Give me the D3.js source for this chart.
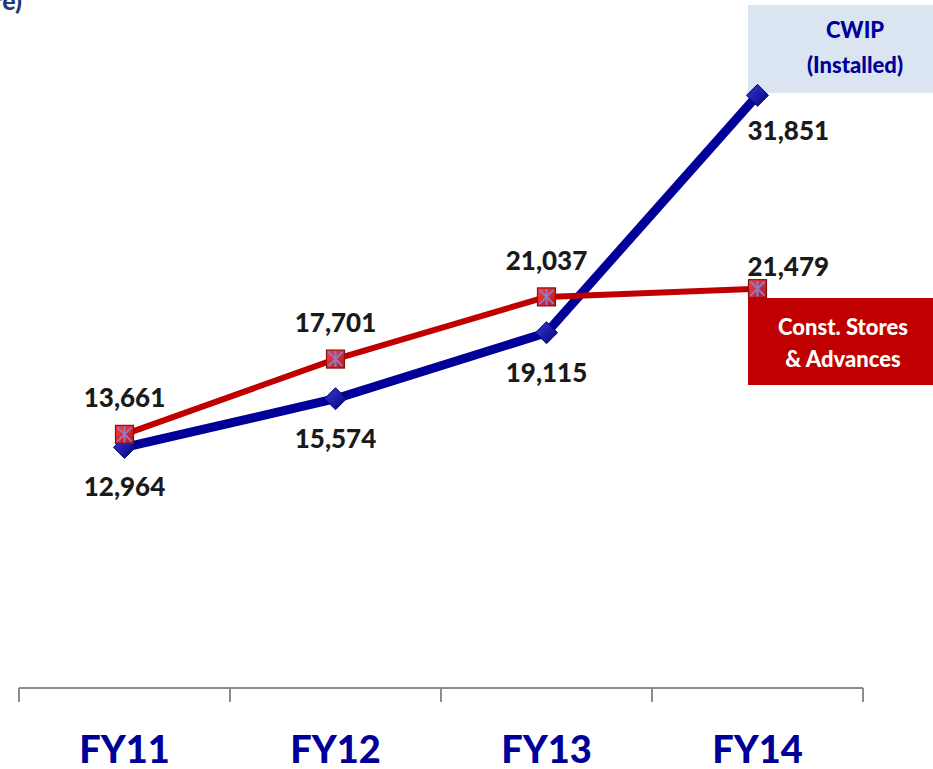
<!DOCTYPE html>
<html><head><meta charset="utf-8">
<script src="https://cdn.jsdelivr.net/npm/d3@7"></script>
<style>html,body{margin:0;padding:0;background:#fff;}svg{display:block;font-family:Lato,"Open Sans",sans-serif;}</style>
</head><body>
<svg id="c" width="933" height="769"></svg>
<script>
const categories = ["FY11","FY12","FY13","FY14"];
const cwipValues = [12964, 15574, 19115, 31851];
const storesValues = [13661, 17701, 21037, 21479];
const seriesNames = [["CWIP","(Installed)"],["Const. Stores","& Advances"]];
const unitLabel = "(Rs. Crore)";

const svg = d3.select("#c");
const fmt = d3.format(",");
const x = d3.scaleBand().domain(categories).range([19, 863]).padding(0);
const y = d3.scaleLinear().domain([0, 36000]).range([689, 18]);
const cx = c => x(c) + x.bandwidth()/2;

// unit label (cut off at left)
svg.append("text").attr("x", 22).attr("y", 10).attr("text-anchor","end")
  .attr("font-size", 25).attr("font-weight","900").attr("fill","#1F3A7A").text(unitLabel);

// legend boxes (drawn beneath marks)
const lg1 = svg.append("g");
lg1.append("rect").attr("x",748).attr("y",5).attr("width",185).attr("height",88).attr("fill","#DBE5F1");
lg1.selectAll("text").data(seriesNames[0]).join("text")
  .attr("x",855).attr("y",(d,i)=>38+i*35).attr("text-anchor","middle")
  .attr("font-size",22).attr("font-weight","900").attr("fill","#000099").text(d=>d);
const lg2 = svg.append("g");
lg2.append("rect").attr("x",748).attr("y",298).attr("width",185).attr("height",87).attr("fill","#C00000");
lg2.selectAll("text").data(seriesNames[1]).join("text")
  .attr("x",843).attr("y",(d,i)=>335+i*32).attr("text-anchor","middle")
  .attr("font-size",22).attr("font-weight","900").attr("fill","#ffffff").text(d=>d);

// axis
const axisG = svg.append("g").attr("transform","translate(0,688)");
axisG.append("line").attr("x1",19).attr("x2",863).attr("stroke","#8c8c8c").attr("stroke-width",2);
const tickPos = categories.map(c => x(c)).concat([x(categories[categories.length-1]) + x.bandwidth()]);
axisG.selectAll("line.t").data(tickPos).join("line").attr("class","t")
  .attr("x1",d=>d).attr("x2",d=>d).attr("y1",0).attr("y2",14)
  .attr("stroke","#8c8c8c").attr("stroke-width",2);
svg.selectAll("text.cat").data(categories).join("text").attr("class","cat")
  .attr("x", d => cx(d)).attr("y", 763).attr("text-anchor","middle")
  .attr("font-size", 38).attr("font-weight","900").attr("fill","#000099").text(d=>d);

// defs gradients
const defs = svg.append("defs");
const gb = defs.append("linearGradient").attr("id","gb").attr("x1","0").attr("y1","0").attr("x2","1").attr("y2","1");
gb.append("stop").attr("offset","0").attr("stop-color","#3a3ad0");
gb.append("stop").attr("offset","1").attr("stop-color","#000080");
const gr = defs.append("linearGradient").attr("id","gr").attr("x1","0").attr("y1","0").attr("x2","1").attr("y2","1");
gr.append("stop").attr("offset","0").attr("stop-color","#ff4040");
gr.append("stop").attr("offset","1").attr("stop-color","#b01818");

const line = d3.line().x(d => cx(d.c)).y(d => y(d.v));
const cwip = categories.map((c,i)=>({c, v: cwipValues[i], i}));
const stores = categories.map((c,i)=>({c, v: storesValues[i], i}));

svg.append("path").datum(cwip).attr("d", line).attr("fill","none")
  .attr("stroke","#000099").attr("stroke-width",9).attr("stroke-linejoin","round");
svg.append("path").datum(stores).attr("d", line).attr("fill","none")
  .attr("stroke","#C00000").attr("stroke-width",6).attr("stroke-linejoin","round");

// blue diamonds
svg.selectAll("path.dm").data(cwip).join("path").attr("class","dm")
  .attr("transform", d => `translate(${cx(d.c)},${y(d.v)})`)
  .attr("d","M0,-11L11,0L0,11L-11,0Z").attr("fill","url(#gb)").attr("stroke","#00006a").attr("stroke-width",1);

// red squares with star
const sq = svg.selectAll("g.sq").data(stores).join("g").attr("class","sq")
  .attr("transform", d => `translate(${cx(d.c)},${y(d.v)})`);
sq.append("rect").attr("x",-9).attr("y",-9).attr("width",18).attr("height",18)
  .attr("fill","url(#gr)").attr("stroke","#8a1010").attr("stroke-width",1.2);
sq.append("path").attr("d","M-7,-7L7,7M7,-7L-7,7M0,-8L0,8").attr("stroke","#8a7ad0").attr("stroke-width",2);

// value labels
const last = categories.length - 1;
svg.selectAll("text.vb").data(cwip).join("text").attr("class","vb")
  .attr("x", d => d.i === last ? cx(d.c) - 10 : cx(d.c))
  .attr("y", d => y(d.v) + (d.i === last ? 45 : 49))
  .attr("text-anchor", d => d.i === last ? "start" : "middle")
  .attr("font-size",26).attr("font-weight","900").attr("fill","#1a1a1a").text(d => fmt(d.v));
svg.selectAll("text.vr").data(stores).join("text").attr("class","vr")
  .attr("x", d => d.i === last ? cx(d.c) - 10 : cx(d.c))
  .attr("y", d => y(d.v) - (d.i === last ? 13 : 27))
  .attr("text-anchor", d => d.i === last ? "start" : "middle")
  .attr("font-size",26).attr("font-weight","900").attr("fill","#1a1a1a").text(d => fmt(d.v));
</script>
</body></html>
